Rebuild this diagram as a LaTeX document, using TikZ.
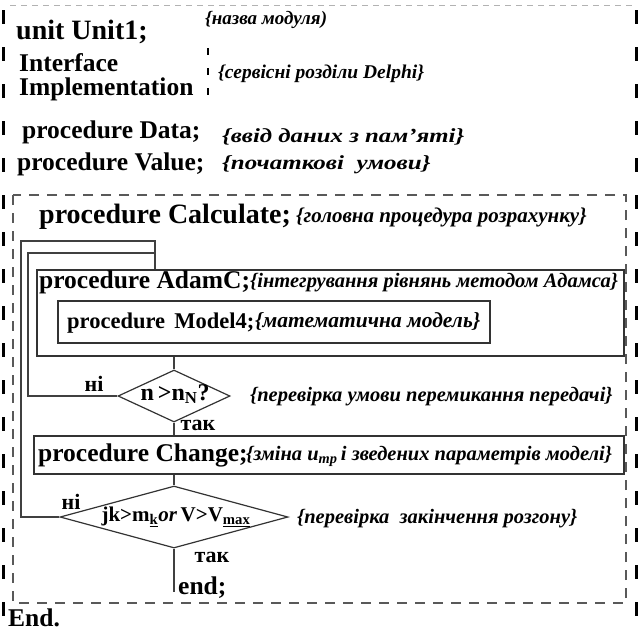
\documentclass[tikz,border=0pt]{standalone}
\usepackage{fontspec}
\usepackage{graphicx}
\setmainfont{Liberation Serif}
\usetikzlibrary{shapes.geometric}
\newcommand{\cfont}[1]{\fontsize{#1}{#1}\selectfont\bfseries\itshape}
\begin{document}
\begin{tikzpicture}[x=1pt,y=-1pt,
  txt/.style={anchor=base west, inner sep=0pt, font=\fontsize{25.5}{28}\selectfont\bfseries},
  cmt/.style={anchor=base west, inner sep=0pt, font=\cfont{20.5}},
  box/.style={draw=black!80, line width=1.5pt, anchor=north west, inner sep=0pt},
  dia/.style={draw=black!80, line width=1.2pt, diamond, inner sep=0pt},
  wire/.style={draw=black!75, line width=1.2pt},
  lbl/.style={inner sep=0pt, font=\fontsize{22}{24}\selectfont\bfseries},
  outerdash/.style={draw=black, line width=3pt, dash pattern=on 14pt off 23pt},
  innerdash/.style={draw=black!65, line width=1.3pt, dash pattern=on 10pt off 8pt}
]
\useasboundingbox (0,0) rectangle (644,633);
% outer frame
\draw[draw=black!30, line width=0.8pt, dash pattern=on 6pt off 5pt] (10,5) -- (632,5);
\draw[outerdash] (3,10) -- (3,633);
\draw[outerdash] (636,10) -- (636,633);
% inner dashed frame
\draw[innerdash] (13,195) rectangle (626,603);
% small dashed separator
\draw[draw=black, line width=2pt, dash pattern=on 7pt off 13pt] (208,48) -- (208,97);

% header texts
\node[txt, font=\fontsize{28}{30}\selectfont\bfseries] (unit) at (16,39) {unit Unit1;};
\node[cmt, font=\cfont{19}] (cunit) at (205,24) {\{назва модуля)};
\node[txt] (intf) at (19,71) {Interface};
\node[txt] (impl) at (19,95) {Implementation};
\node[cmt, font=\cfont{19.5}] (cintf) at (218,78) {\{сервісні розділи Delphi\}};
\node[txt] (data) at (22,138) {procedure Data;};
\node[cmt, font=\cfont{20}] (cdata) at (222,142) {\scalebox{1.24}[1]{\{ввід даних з пам’яті\}}};
\node[txt] (value) at (17,170) {procedure Value;};
\node[cmt, font=\cfont{20}] (cvalue) at (222,169) {\scalebox{1.25}[1]{\{початкові\ \ умови\}}};

% calculate
\node[txt, font=\fontsize{28}{30}\selectfont\bfseries] (calc) at (39,223) {procedure Calculate;};
\node[cmt, font=\cfont{21}] (ccalc) at (296,222) {\{головна процедура розрахунку\}};

% boxes
\node[box, minimum width=587pt, minimum height=86pt] (adam) at (36,269) {};
\node[txt] (adamt) at (39,288) {procedure AdamC;};
\node[cmt] (cadam) at (250,287) {\{інтегрування рівнянь методом Адамса\}};
\node[box, minimum width=432pt, minimum height=42pt] (model) at (57,300) {};
\node[txt, font=\fontsize{22.5}{26}\selectfont\bfseries] (modelt) at (67,328) {procedure\ \,Model4;};
\node[cmt, font=\cfont{21.5}] (cmodel) at (255,327) {\{математична модель\}};

\node[dia, minimum width=112pt, minimum height=52pt] (d1) at (174,396) {};
\node[inner sep=0pt, font=\fontsize{24}{26}\selectfont\bfseries] (d1t) at (175,394) {n\,>n\textsubscript{N}?};
\node[cmt] (cd1) at (250,401) {\{перевірка умови перемикання передачі\}};
\node[lbl] (no1) at (94,384) {ні};
\node[lbl] (yes1) at (198,425) {так};

\node[box, minimum width=590pt, minimum height=38pt] (change) at (33,435) {};
\node[txt] (changet) at (38,461) {procedure Change;};
\node[cmt] (cchange) at (246,460) {\{зміна \textit{u}\textsubscript{тр}\,і зведених параметрів моделі\}};

\node[dia, minimum width=228pt, minimum height=62pt] (d2) at (174,517) {};
\node[inner sep=0pt, font=\fontsize{21}{23}\selectfont\bfseries] (d2t) at (176,517) {jk>m\textsubscript{\underline{k}}\textit{or}\,V>V\textsubscript{\underline{max}}};
\node[cmt] (cd2) at (297,523) {\{перевірка\ \ закінчення розгону\}};
\node[lbl] (no2) at (71,502) {ні};
\node[lbl] (yes2) at (212,557) {так};

\coordinate (endc) at (174,592);
\node[txt] (endt) at (178,594) {end;};
\node[txt] (End) at (8,626) {End.};

% connectors
\draw[wire] (d1.north |- adam.south) -- (d1.north);
\draw[wire] (d1.south) -- (d1.south |- change.north);
\draw[wire] (d2.north |- change.south) -- (d2.north);
\draw[wire] (d2.south) -- (endc);
\coordinate (l1) at (28,253);
\coordinate (j1) at (155,253);
\coordinate (l2) at (21,241);
\coordinate (j2) at (155,241);
\draw[wire] (d1.west) -| (l1) -- (j1);
\draw[wire] (d2.west) -| (l2) -- (j2) -- (j2 |- adam.north);
\end{tikzpicture}
\end{document}
